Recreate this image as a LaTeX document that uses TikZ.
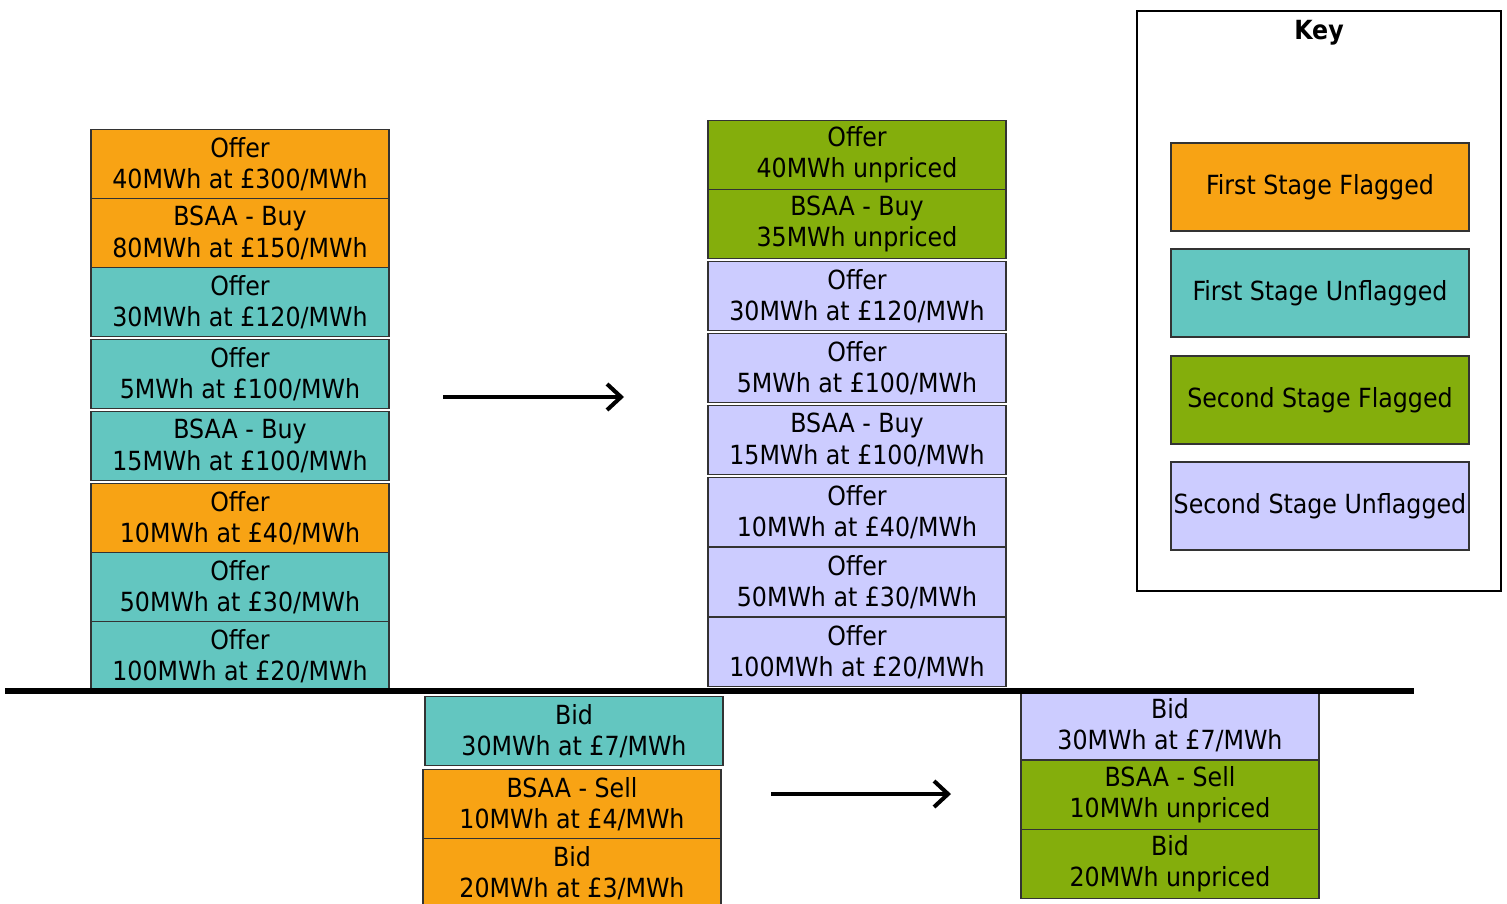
\documentclass[tikz,border=0pt]{standalone}
\usepackage{fontspec}
\setmainfont{DejaVu Sans Condensed}
\usetikzlibrary{arrows.meta}

\definecolor{fsfcol}{RGB}{248,163,20}
\definecolor{fsucol}{RGB}{99,198,192}
\definecolor{ssfcol}{RGB}{132,174,12}
\definecolor{ssucol}{RGB}{204,204,255}

\tikzset{
  cell/.style={draw=black!80, line width=0.6pt, inner sep=0pt, align=center,
    minimum width=59.6mm, minimum height=13.8mm,
    font=\fontsize{15}{17.8}\selectfont},
  fsf/.style={cell, fill=fsfcol},
  fsu/.style={cell, fill=fsucol},
  ssf/.style={cell, fill=ssfcol},
  ssu/.style={cell, fill=ssucol},
  keycell/.style={cell, minimum height=17.6mm},
  move/.style={line width=2.3pt, -{Straight Barb[length=2.8mm,width=5.2mm]}}
}

\begin{document}
\begin{tikzpicture}[x=0.2mm, y=-0.2mm]
  \useasboundingbox (0,0) rectangle (1507,903);

  % before the second stage: offers
  \node[fsf] (o1) at (240,164) {Offer\\40MWh at £300/MWh};
  \node[fsf] (o2) at (240,233) {BSAA - Buy\\80MWh at £150/MWh};
  \node[fsu] (o3) at (240,302) {Offer\\30MWh at £120/MWh};
  \node[fsu] (o4) at (240,374) {Offer\\5MWh at £100/MWh};
  \node[fsu] (o5) at (240,446) {BSAA - Buy\\15MWh at £100/MWh};
  \node[fsf] (o6) at (240,518) {Offer\\10MWh at £40/MWh};
  \node[fsu] (o7) at (240,587) {Offer\\50MWh at £30/MWh};
  \node[fsu] (o8) at (240,656) {Offer\\100MWh at £20/MWh};

  % after the second stage: offers
  \node[ssf] (p1) at (857,155) {Offer\\40MWh unpriced};
  \node[ssf] (p2) at (857,224) {BSAA - Buy\\35MWh unpriced};
  \node[ssu] (p3) at (857,296) {Offer\\30MWh at £120/MWh};
  \node[ssu] (p4) at (857,368) {Offer\\5MWh at £100/MWh};
  \node[ssu] (p5) at (857,440) {BSAA - Buy\\15MWh at £100/MWh};
  \node[ssu] (p6) at (857,512) {Offer\\10MWh at £40/MWh};
  \node[ssu] (p7) at (857,582) {Offer\\50MWh at £30/MWh};
  \node[ssu] (p8) at (857,652) {Offer\\100MWh at £20/MWh};

  % bids
  \node[fsu] (b1) at (574,731) {Bid\\30MWh at £7/MWh};
  \node[fsf] (b2) at (572,804) {BSAA - Sell\\10MWh at £4/MWh};
  \node[fsf] (b3) at (572,873) {Bid\\20MWh at £3/MWh};

  \node[ssu] (c1) at (1170,725) {Bid\\30MWh at £7/MWh};
  \node[ssf] (c2) at (1170,795) {BSAA - Sell\\10MWh unpriced};
  \node[ssf] (c3) at (1170,864) {Bid\\20MWh unpriced};

  % zero line
  \coordinate (z1) at (5,691);
  \coordinate (z2) at (1414,691);
  \draw[line width=3.2pt] (z1) -- (z2);

  % stage arrows
  \coordinate (a1) at (443,397);
  \coordinate (a2) at (624,397);
  \coordinate (a3) at (771,794);
  \coordinate (a4) at (951,794);
  \draw[move] (a1) -- (a2);
  \draw[move] (a3) -- (a4);

  % key
  \node[draw, line width=1.2pt, minimum width=72.8mm, minimum height=116mm, inner sep=0pt] (key) at (1319,301) {};
  \node[font=\fontsize{15}{17}\selectfont\bfseries, anchor=north] (keytitle) at (1319,14) {Key};
  \node[keycell, fill=fsfcol] (k1) at (1320,187) {First Stage Flagged};
  \node[keycell, fill=fsucol] (k2) at (1320,293) {First Stage Unflagged};
  \node[keycell, fill=ssfcol] (k3) at (1320,400) {Second Stage Flagged};
  \node[keycell, fill=ssucol] (k4) at (1320,506) {Second Stage Unflagged};
\end{tikzpicture}
\end{document}
